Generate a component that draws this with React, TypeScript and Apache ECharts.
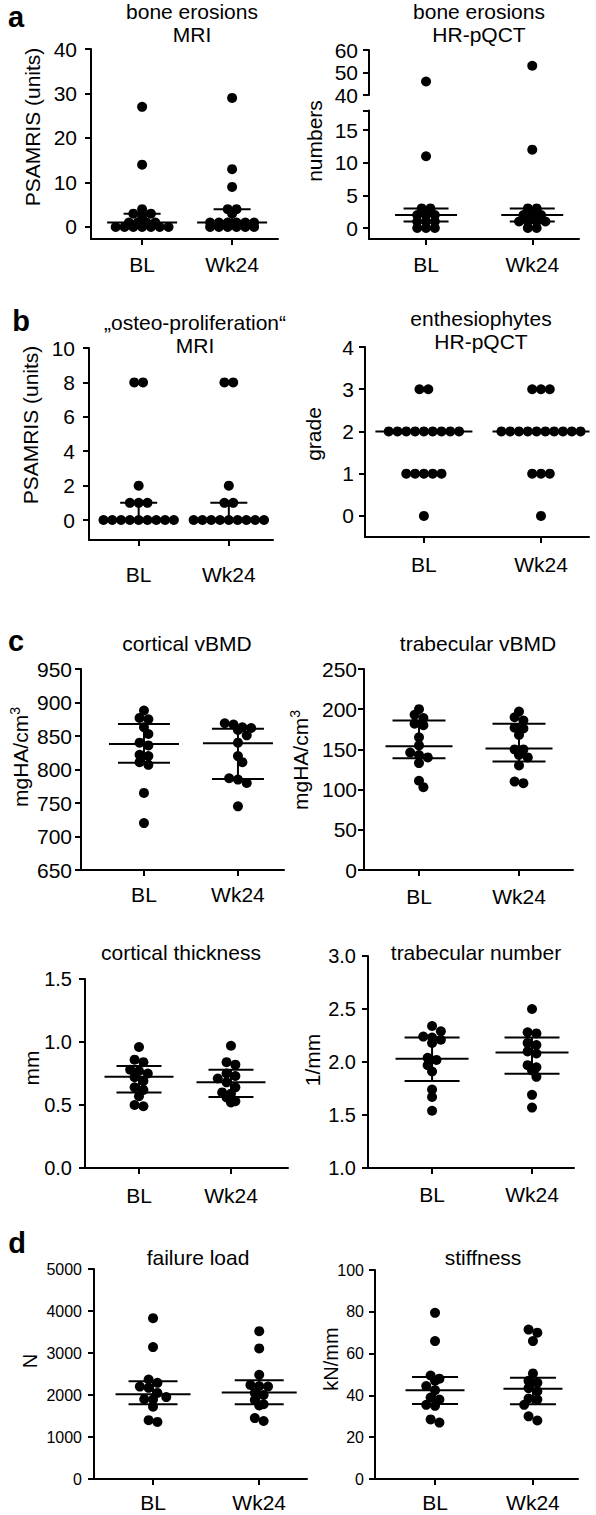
import React, { useEffect, useRef } from "react";
import * as echarts from "echarts";

// ---------- data ----------
const groups = ["BL", "Wk24"];
const groupPos = [1, 2];

// (a) bone erosions, MRI  — PSAMRIS (units)
const erosionsMriBL = [27, 14, 4, 3, 3, 3, 2, 1, 1, 1, 1, 0, 0, 0, 0, 0, 0, 0];
const erosionsMriWk24 = [29, 13, 9, 4, 4, 3, 1, 1, 1, 1, 1, 1, 0, 0, 0, 0, 0, 0];
const erosionsMriStats = [[1, 0, 3], [1, 0, 4]]; // median, q1, q3
const erosionsMriTicks = [0, 10, 20, 30, 40];

// (a) bone erosions, HR-pQCT — numbers (broken axis)
const erosionsCtBL = [46, 11, 3, 3, 2, 2, 2, 1, 1, 1, 0, 0, 0];
const erosionsCtWk24 = [53, 12, 3, 3, 2, 2, 2, 1, 1, 1, 1, 0, 0];
const erosionsCtStats = [[2, 1, 3], [2, 1, 3]];
const erosionsCtTicksLow = [0, 5, 10, 15];
const erosionsCtTicksHigh = [40, 50, 60];

// (b) osteo-proliferation, MRI
const osteoBL = [8, 8, 2, 1, 1, 1, 0, 0, 0, 0, 0, 0, 0, 0, 0];
const osteoWk24 = [8, 8, 2, 1, 1, 0, 0, 0, 0, 0, 0, 0, 0, 0];
const osteoStats = [[0, 0, 1], [0, 0, 1]];
const osteoTicks = [0, 2, 4, 6, 8, 10];

// (b) enthesiophytes, HR-pQCT — grade
const enthBL = [3, 3, 2, 2, 2, 2, 2, 2, 2, 2, 2, 1, 1, 1, 1, 1, 0];
const enthWk24 = [3, 3, 3, 2, 2, 2, 2, 2, 2, 2, 2, 2, 2, 1, 1, 1, 0];
const enthStats = [[2, 2, 2], [2, 2, 2]];
const enthTicks = [0, 1, 2, 3, 4];

// (c) cortical vBMD
const cortBmdBL = [888, 877, 875, 863, 853, 840, 836, 822, 820, 811, 807, 765, 720];
const cortBmdWk24 = [869, 867, 863, 862, 859, 851, 840, 820, 811, 787, 785, 780, 745];
const cortBmdStats = [[838, 810, 868], [839, 786, 861]];
const cortBmdTicks = [650, 700, 750, 800, 850, 900, 950];

// (c) trabecular vBMD
const trabBmdBL = [200, 193, 189, 182, 180, 165, 155, 146, 143, 140, 133, 111, 103];
const trabBmdWk24 = [197, 190, 186, 177, 176, 168, 150, 150, 143, 140, 130, 110, 108];
const trabBmdStats = [[154, 139, 186], [151, 135, 182]];
const trabBmdTicks = [0, 50, 100, 150, 200, 250];

// (c) cortical thickness
const cortThBL = [0.96, 0.86, 0.84, 0.78, 0.77, 0.75, 0.72, 0.69, 0.64, 0.62, 0.57, 0.5, 0.49];
const cortThWk24 = [0.97, 0.84, 0.82, 0.75, 0.73, 0.71, 0.68, 0.64, 0.6, 0.59, 0.56, 0.53, 0.52];
const cortThStats = [[0.725, 0.6, 0.81], [0.68, 0.563, 0.78]];
const cortThTicks = [0, 0.5, 1, 1.5];

// (c) trabecular number
const trabNBL = [2.34, 2.29, 2.24, 2.23, 2.21, 2.18, 2.04, 2.02, 1.97, 1.91, 1.74, 1.67, 1.54];
const trabNWk24 = [2.5, 2.28, 2.27, 2.18, 2.16, 2.1, 2.08, 1.97, 1.95, 1.92, 1.86, 1.69, 1.57];
const trabNStats = [[2.03, 1.82, 2.23], [2.09, 1.89, 2.23]];
const trabNTicks = [1, 1.5, 2, 2.5, 3];

// (d) failure load
const failBL = [3830, 3140, 2370, 2290, 2200, 2170, 2050, 1950, 1900, 1890, 1720, 1400, 1360];
const failWk24 = [3520, 3110, 2480, 2240, 2210, 2200, 2050, 2000, 1880, 1780, 1750, 1450, 1380];
const failStats = [[2020, 1780, 2330], [2060, 1780, 2350]];
const failTicks = [0, 1000, 2000, 3000, 4000, 5000];

// (d) stiffness
const stiffBL = [79.5, 66, 49.5, 48, 47, 44.5, 42.5, 39, 38, 35.5, 35, 28.5, 27];
const stiffWk24 = [71.5, 70, 66, 50.5, 47, 46, 43.5, 42, 38.5, 38, 35.5, 30, 28];
const stiffStats = [[42.5, 35.9, 48.8], [43.2, 35.8, 48.5]];
const stiffTicks = [0, 20, 40, 60, 80, 100];

// ---------- layout / style ----------
const FONT = "'Liberation Sans', Arial, Helvetica, sans-serif";
const DOT = 10;
const BLACK = "#000";

type Layout = {
  left: number; right: number; top: number; bottom: number;
  yMin: number; yMax: number; xMin: number; xMax: number;
  med: number; q: number; yLabM: number; xLabM: number; tickFont: number;
  tol: number; avoid: boolean; fmt?: (v: number) => string;
};

const fmt1 = (v: number) => v.toFixed(1);

const L_a1: Layout = { left: 91, right: 278, top: 49, bottom: 239, yMin: -2.7, yMax: 40, xMin: 0.432, xMax: 2.51, med: 35, q: 18.5, yLabM: 14, xLabM: 14.5, tickFont: 21, tol: 0.5, avoid: false };
const L_a2low: Layout = { left: 369, right: 579, top: 110.5, bottom: 239, yMin: -1.68, yMax: 18, xMin: 0.463, xMax: 2.44, med: 31, q: 22.5, yLabM: 11, xLabM: 14.5, tickFont: 21, tol: 0.5, avoid: false };
const L_a2high: Layout = { left: 369, right: 579, top: 50, bottom: 95, yMin: 40, yMax: 60, xMin: 0.463, xMax: 2.44, med: 31, q: 22.5, yLabM: 11, xLabM: 14.5, tickFont: 21, tol: 0.5, avoid: false };
const L_b1: Layout = { left: 89, right: 273, top: 348, bottom: 540, yMin: -1.16, yMax: 10, xMin: 0.449, xMax: 2.49, med: 35, q: 18.5, yLabM: 14, xLabM: 23.5, tickFont: 21, tol: 0.5, avoid: false };
const L_b2: Layout = { left: 365, right: 589, top: 347, bottom: 537, yMin: -0.5, yMax: 4, xMin: 0.497, xMax: 2.41, med: 48.5, q: 48.5, yLabM: 11, xLabM: 16.5, tickFont: 21, tol: 0.5, avoid: false };
const L_c1: Layout = { left: 81, right: 284, top: 669, bottom: 870, yMin: 650, yMax: 950, xMin: 0.33, xMax: 2.49, med: 35, q: 26, yLabM: 9, xLabM: 13.5, tickFont: 21, tol: 5, avoid: true };
const L_c2: Layout = { left: 364, right: 573, top: 669, bottom: 870, yMin: 0, yMax: 250, xMin: 0.45, xMax: 2.54, med: 33.5, q: 26.5, yLabM: 7, xLabM: 15.5, tickFont: 21, tol: 5, avoid: true };
const L_c3: Layout = { left: 85, right: 288, top: 979, bottom: 1168, yMin: 0, yMax: 1.5, xMin: 0.413, xMax: 2.62, med: 34.5, q: 22.5, yLabM: 13, xLabM: 16.5, tickFont: 20, tol: 5, avoid: true, fmt: fmt1 };
const L_c4: Layout = { left: 368, right: 574, top: 956, bottom: 1168, yMin: 1, yMax: 3, xMin: 0.359, xMax: 2.42, med: 36.5, q: 27.5, yLabM: 12, xLabM: 15.5, tickFont: 20, tol: 5, avoid: true, fmt: fmt1 };
const L_d1: Layout = { left: 94, right: 307, top: 1269, bottom: 1479, yMin: 0, yMax: 5000, xMin: 0.444, xMax: 2.45, med: 37.5, q: 24.5, yLabM: 12, xLabM: 12.5, tickFont: 16, tol: 5, avoid: true };
const L_d2: Layout = { left: 375, right: 578, top: 1270, bottom: 1479, yMin: 0, yMax: 100, xMin: 0.387, xMax: 2.46, med: 29.5, q: 23, yLabM: 11, xLabM: 12.5, tickFont: 16, tol: 5, avoid: true };

// beeswarm: near-equal values form centred rows; optional shift to avoid collisions
function swarm(values: number[], center: number, L: Layout): number[][] {
  const pxY = (L.bottom - L.top) / (L.yMax - L.yMin);
  const pxX = (L.right - L.left) / (L.xMax - L.xMin);
  const step = DOT * 0.88;
  const sorted = [...values].sort((a, b) => b - a);
  const placed: number[][] = [];
  const out: number[][] = [];
  let i = 0;
  while (i < sorted.length) {
    let j = i;
    while (j + 1 < sorted.length && (sorted[i] - sorted[j + 1]) * pxY <= L.tol) j++;
    const n = j - i + 1;
    const base: number[] = [];
    for (let k = 0; k < n; k++) base.push((k - (n - 1) / 2) * step);
    let shift = 0;
    if (L.avoid) {
      const cands = [0, step / 2, -step / 2, step, -step];
      for (const s of cands) {
        const ok = base.every((b, k) =>
          placed.every(([px, py]) => Math.hypot(px - (b + s), py - sorted[i + k] * pxY) >= step * 0.8)
        );
        if (ok) { shift = s; break; }
      }
    }
    base.forEach((b, k) => {
      const v = sorted[i + k];
      placed.push([b + shift, v * pxY]);
      out.push([center + (b + shift) / pxX, v]);
    });
    i = j + 1;
  }
  return out;
}

function buildOption() {
  const grid: any[] = [];
  const xAxis: any[] = [];
  const yAxis: any[] = [];
  const series: any[] = [];
  const graphic: any[] = [];
  const lineStyle = { color: BLACK, width: 2 };

  const addPanel = (
    L: Layout, bl: number[], wk: number[], stats: number[][] | null,
    ticks: number[], opts: { noX?: boolean; stubs?: number[] } = {}
  ) => {
    const gi = grid.length;
    grid.push({
      left: L.left, top: L.top, width: L.right - L.left, height: L.bottom - L.top,
      containLabel: false, outerBoundsMode: "none",
    });
    xAxis.push({
      type: "value", gridIndex: gi, min: L.xMin, max: L.xMax, show: !opts.noX,
      axisLine: { show: true, onZero: false, lineStyle },
      axisTick: { show: true, customValues: groupPos, length: 6, lineStyle },
      axisLabel: {
        show: true, customValues: groupPos,
        formatter: (v: number) => groups[groupPos.indexOf(v)] ?? "",
        margin: L.xLabM, fontSize: 21, color: BLACK, fontFamily: FONT,
      },
      splitLine: { show: false },
    });
    yAxis.push({
      type: "value", gridIndex: gi, min: L.yMin, max: L.yMax,
      axisLine: { show: true, onZero: false, lineStyle },
      axisTick: { show: true, customValues: [...ticks, ...(opts.stubs || [])], length: 6, lineStyle },
      axisLabel: {
        show: true, customValues: ticks,
        formatter: (v: number) => (L.fmt ? L.fmt(v) : String(v)),
        margin: L.yLabM, fontSize: L.tickFont, color: BLACK, fontFamily: FONT,
      },
      splitLine: { show: false },
    });
    series.push({
      type: "scatter", xAxisIndex: gi, yAxisIndex: gi,
      data: [...swarm(bl, groupPos[0], L), ...swarm(wk, groupPos[1], L)],
      symbol: "circle", symbolSize: DOT, itemStyle: { color: BLACK, opacity: 1 },
      silent: true, z: 2,
    });
    if (stats) {
      series.push({
        type: "custom", xAxisIndex: gi, yAxisIndex: gi, silent: true, z: 3, clip: false,
        data: stats.map((s, k) => [groupPos[k], s[0], s[1], s[2]]),
        encode: { x: 0, y: [1, 2, 3] },
        renderItem: (_p: any, api: any) => {
          const x = api.value(0), m = api.value(1), a = api.value(2), b = api.value(3);
          const pm = api.coord([x, m]);
          const pa = api.coord([x, a]);
          const pb = api.coord([x, b]);
          const st = { stroke: BLACK, lineWidth: 2, fill: "none" };
          const ch: any[] = [
            { type: "line", shape: { x1: pm[0] - L.med, y1: pm[1], x2: pm[0] + L.med, y2: pm[1] }, style: st },
          ];
          if (a !== m) ch.push({ type: "line", shape: { x1: pa[0] - L.q, y1: pa[1], x2: pa[0] + L.q, y2: pa[1] }, style: st });
          if (b !== m) ch.push({ type: "line", shape: { x1: pb[0] - L.q, y1: pb[1], x2: pb[0] + L.q, y2: pb[1] }, style: st });
          if (a !== b) ch.push({ type: "line", shape: { x1: pa[0], y1: pa[1], x2: pb[0], y2: pb[1] }, style: st });
          return { type: "group", children: ch };
        },
      });
    }
  };

  // panels
  addPanel(L_a1, erosionsMriBL, erosionsMriWk24, erosionsMriStats, erosionsMriTicks);
  const cut = L_a2low.yMax;
  addPanel(L_a2low, erosionsCtBL.filter((v) => v <= cut), erosionsCtWk24.filter((v) => v <= cut),
    erosionsCtStats, erosionsCtTicksLow, { stubs: [cut] });
  addPanel(L_a2high, erosionsCtBL.filter((v) => v > cut), erosionsCtWk24.filter((v) => v > cut),
    null, erosionsCtTicksHigh, { noX: true });
  addPanel(L_b1, osteoBL, osteoWk24, osteoStats, osteoTicks);
  addPanel(L_b2, enthBL, enthWk24, enthStats, enthTicks);
  addPanel(L_c1, cortBmdBL, cortBmdWk24, cortBmdStats, cortBmdTicks);
  addPanel(L_c2, trabBmdBL, trabBmdWk24, trabBmdStats, trabBmdTicks);
  addPanel(L_c3, cortThBL, cortThWk24, cortThStats, cortThTicks);
  addPanel(L_c4, trabNBL, trabNWk24, trabNStats, trabNTicks);
  addPanel(L_d1, failBL, failWk24, failStats, failTicks);
  addPanel(L_d2, stiffBL, stiffWk24, stiffStats, stiffTicks);

  // text helpers
  const txt = (t: string, x: number, y: number, size: number, extra: any = {}) => ({
    type: "text", x, y, rotation: extra.rotation || 0, silent: true, z: 10,
    style: {
      text: t, fontSize: size, fontFamily: FONT, fill: BLACK,
      align: "center", verticalAlign: "middle", lineHeight: extra.lineHeight || size,
      fontWeight: extra.bold ? "bold" : "normal",
      ...(extra.rich ? { rich: extra.rich } : {}),
    },
  });
  const R = Math.PI / 2;

  // panel letters
  graphic.push(txt("a", 16, 17, 29, { bold: true }));
  graphic.push(txt("b", 21, 321, 29, { bold: true }));
  graphic.push(txt("c", 16, 641, 29, { bold: true }));
  graphic.push(txt("d", 17, 1243, 29, { bold: true }));

  // titles
  graphic.push(txt("bone erosions\nMRI", 192, 23, 21, { lineHeight: 23 }));
  graphic.push(txt("bone erosions\nHR-pQCT", 479, 23, 21, { lineHeight: 23 }));
  graphic.push(txt("\u201Eosteo-proliferation\u201C\nMRI", 195, 334, 21, { lineHeight: 23 }));
  graphic.push(txt("enthesiophytes\nHR-pQCT", 481, 330, 21, { lineHeight: 23 }));
  graphic.push(txt("cortical vBMD", 187, 643, 21));
  graphic.push(txt("trabecular vBMD", 478, 643, 21));
  graphic.push(txt("cortical thickness", 181, 952, 21));
  graphic.push(txt("trabecular number", 476, 952, 21));
  graphic.push(txt("failure load", 198, 1257, 21));
  graphic.push(txt("stiffness", 483, 1257, 21));

  // y-axis names
  const richUnit = {
    m: { fontSize: 21, fontFamily: FONT, fill: BLACK, lineHeight: 24 },
    s: { fontSize: 14, fontFamily: FONT, fill: BLACK, lineHeight: 14, verticalAlign: "top" },
  };
  graphic.push(txt("PSAMRIS (units)", 32, 127, 21, { rotation: R }));
  graphic.push(txt("numbers", 314, 141, 21, { rotation: R }));
  graphic.push(txt("PSAMRIS (units)", 30, 425, 21, { rotation: R }));
  graphic.push(txt("grade", 313, 434, 21, { rotation: R }));
  graphic.push(txt("{m|mgHA/cm}{s|3}", 20, 757, 21, { rotation: R, rich: richUnit }));
  graphic.push(txt("{m|mgHA/cm}{s|3}", 300, 760, 21, { rotation: R, rich: richUnit }));
  graphic.push(txt("mm", 31, 1068, 21, { rotation: R }));
  graphic.push(txt("1/mm", 312, 1060, 21, { rotation: R }));
  graphic.push(txt("N", 30, 1361, 20, { rotation: R }));
  graphic.push(txt("kN/mm", 331, 1359, 20, { rotation: R }));

  return {
    animation: false,
    backgroundColor: "#fff",
    grid, xAxis, yAxis, series, graphic,
  };
}

export default function App() {
  const ref = useRef<HTMLDivElement>(null);
  useEffect(() => {
    document.body.style.margin = "0";
    if (!ref.current) return;
    const chart = echarts.init(ref.current, null, { renderer: "svg" });
    chart.setOption(buildOption() as any);
    return () => chart.dispose();
  }, []);
  return <div ref={ref} style={{ width: 596, height: 1515 }} />;
}
